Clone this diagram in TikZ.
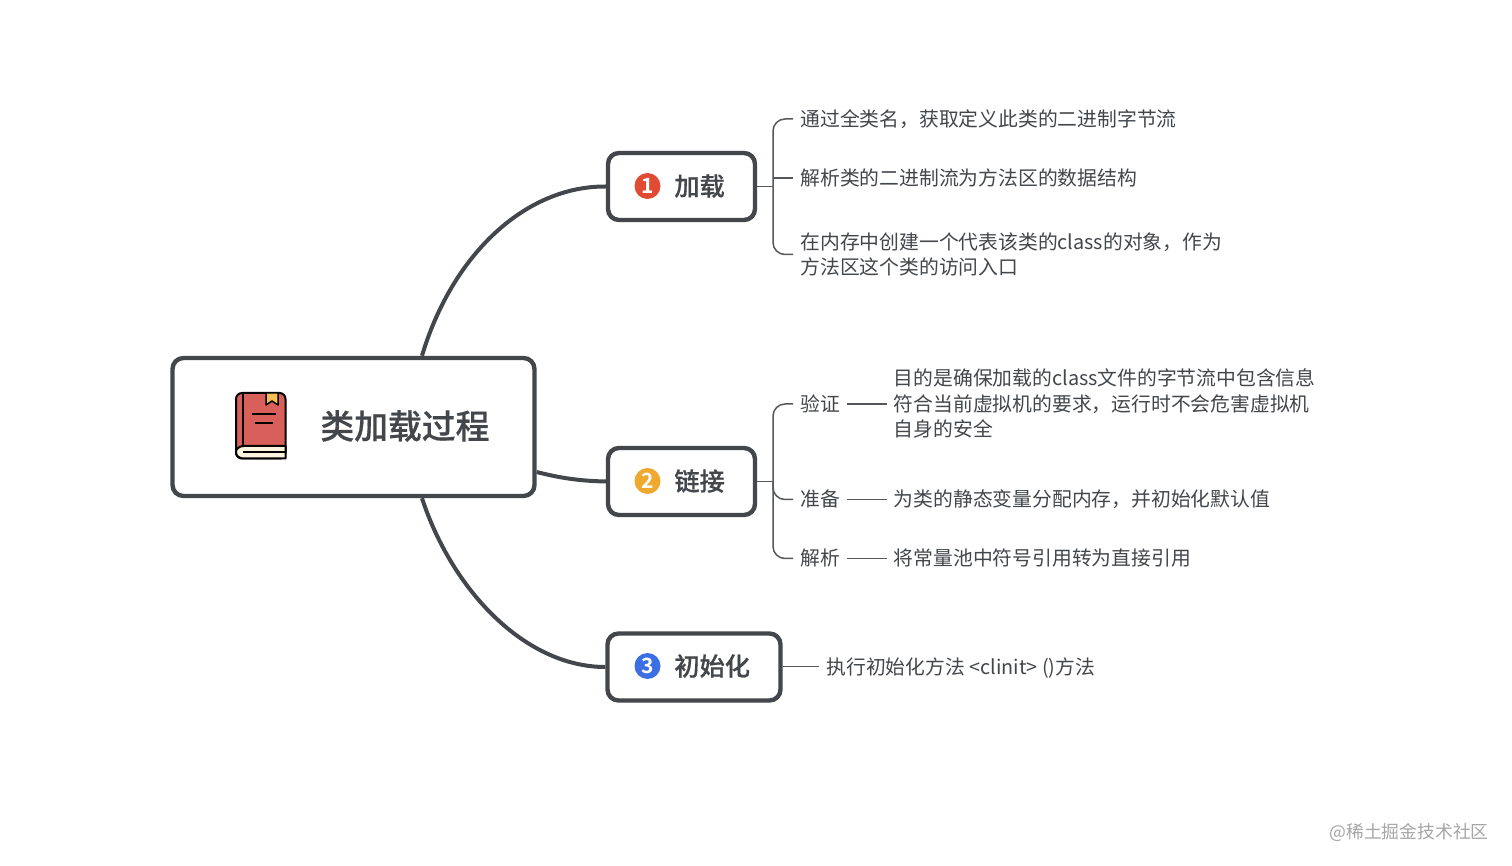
\documentclass[tikz,border=0pt]{standalone}
\usepackage{fontspec}
\setmainfont[BoldFont={Noto Sans CJK SC Medium},BoldFeatures={FakeBold=0.5}]{Noto Sans CJK SC}
\newfontfamily\markfont{Noto Sans CJK SC Bold}
\definecolor{inkgrey}{HTML}{43464A}
\definecolor{linegrey}{HTML}{55585B}
\definecolor{markred}{HTML}{E24B33}
\definecolor{markorange}{HTML}{EFA92F}
\definecolor{markblue}{HTML}{3B6FE3}
\definecolor{bookred}{HTML}{D9605A}
\definecolor{bookmark}{HTML}{F6BE55}
\definecolor{bookpage}{HTML}{FBF3E0}
\tikzset{
    topicbox/.style={draw=inkgrey,fill=white,line width=2.2pt,rounded corners=5.5pt,minimum height=33.5pt,inner sep=0pt},
    topiclabel/.style={anchor=west,inner sep=0pt,text=inkgrey,font=\fontsize{12.6}{15}\selectfont\bfseries},
    topicmark/.style={circle,minimum size=13pt,inner sep=0pt,text=white,font=\fontsize{10.5}{11}\selectfont\markfont},
    leaf/.style={anchor=west,inner xsep=3.5pt,inner ysep=0pt,align=left,text=inkgrey,font=\fontsize{9.9}{12.6}\selectfont},
    leafline/.style={leaf,text height=8.7pt,text depth=1.2pt},
    curve/.style={draw=inkgrey,line width=2pt},
    branch/.style={draw=linegrey,line width=.75pt,rounded corners=6pt},
    bookline/.style={draw=black,line width=1pt,line join=round}
}
\begin{document}
\begin{tikzpicture}[x=.5pt,y=-.5pt]
        \useasboundingbox [fill=white] (0,0) rectangle (1512,866);
        \node [topicbox,minimum width=181pt,minimum height=69pt] (central) at (353.5,427) {};
        \node [topicbox,minimum width=73.5pt] (load) at (681.5,186.5) {};
        \node [topicbox,minimum width=73.5pt] (link) at (681.5,481.5) {};
        \node [topicbox,minimum width=86.5pt] (init) at (694,667) {};
        \draw [curve] ([xshift=34.25pt]central.north) .. controls (452,255) and (525,186) .. (load.west);
        \draw [curve] ([yshift=-22.5pt]central.east) .. controls (560,478) and (580,481) .. (link.west);
        \draw [curve] ([xshift=34.25pt]central.south) .. controls (452,590) and (525,667) .. (init.west);
        \node [anchor=west,inner sep=0pt,text=inkgrey,font=\fontsize{16.9}{20}\selectfont\bfseries] (centraltext) at (320,426) {类加载过程};
        \node [topicmark,fill=markred] (loadmark) at (647.5,186) {1};
        \node [topicmark,fill=markorange] (linkmark) at (647.5,481) {2};
        \node [topicmark,fill=markblue] (initmark) at (647.5,666) {3};
        \node [topiclabel] (loadtext) at (674,186) {加载};
        \node [topiclabel] (linktext) at (674,481) {链接};
        \node [topiclabel] (inittext) at (674,666) {初始化};
        \node [leafline] (loada) at (793,119) {通过全类名，获取定义此类的二进制字节流};
        \node [leafline] (loadb) at (793,178) {解析类的二进制流为方法区的数据结构};
        \node [leaf] (loadc) at (793,254.5) {在内存中创建一个代表该类的class的对象，作为\\方法区这个类的访问入口};
        \node [leafline] (verify) at (793,404) {验证};
        \node [leafline] (prepare) at (793,499.5) {准备};
        \node [leafline] (resolve) at (793,558.5) {解析};
        \node [leaf] (verifytext) at (886.5,403.5) {目的是确保加载的class文件的字节流中包含信息\\符合当前虚拟机的要求，运行时不会危害虚拟机\\自身的安全};
        \node [leafline] (preparetext) at (886.5,499.5) {为类的静态变量分配内存，并初始化默认值};
        \node [leafline] (resolvetext) at (886.5,558.5) {将常量池中符号引用转为直接引用};
        \node [leafline] (inita) at (819,666.5) {执行初始化方法 <clinit> ()方法};
        \coordinate (loadfork) at (773,186.5);
        \coordinate (linkfork) at (773,481.5);
        \draw [branch] (load.east) -- (loadfork);
        \draw [branch] (loadfork) |- (loada.west);
        \draw [branch] (loadfork |- loadb.west) -- (loadb.west);
        \draw [branch] (loadfork) |- (loadc.west);
        \draw [branch] (link.east) -- (linkfork);
        \draw [branch] (linkfork) |- (verify.west);
        \draw [branch] (linkfork) |- (prepare.west);
        \draw [branch] (linkfork) |- (resolve.west);
        \draw [branch] (verify.east) -- (verify.east -| verifytext.west);
        \draw [branch] (prepare.east) -- (preparetext.west);
        \draw [branch] (resolve.east) -- (resolvetext.west);
        \draw [branch] (init.east |- inita.west) -- (inita.west);
        \draw [bookline,fill=bookred,rounded corners=3pt] (236,393) rectangle (285.5,458.5);
        \draw [bookline,fill=bookpage] (285.5,446) -- (244,446) .. controls (239,446) and (236,449) .. (236,452) .. controls (236,456) and (239,458.5) .. (244,458.5) -- (285.5,458.5) -- cycle;
        \draw [bookline] (243,393) -- (243,446);
        \draw [draw=black,line width=.7pt] (243,452) -- (285.5,452);
        \draw [bookline,line width=.75pt,fill=bookmark] (266,393) -- (266,405) -- (272,401) -- (278,405) -- (278,393) -- cycle;
        \draw [bookline,line width=.9pt] (252,414) -- (276,414);
        \draw [bookline,line width=.9pt] (255,423) -- (273,423);
        \node [anchor=east,inner sep=0pt,text=black!35,font=\fontsize{8.9}{10}\selectfont] (watermark) at (1489,832.5) {@稀土掘金技术社区};
    \end{tikzpicture}
\end{document}
